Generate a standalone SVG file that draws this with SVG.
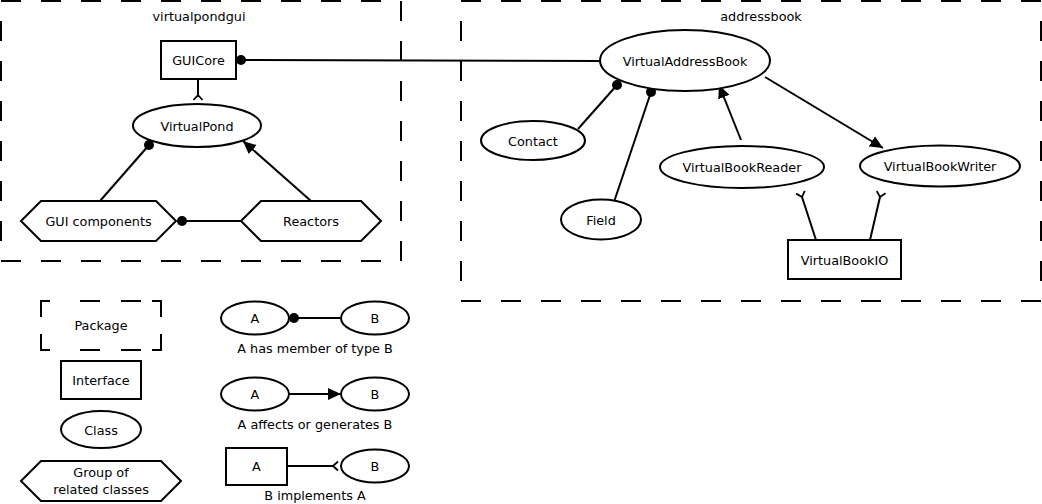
<svg xmlns="http://www.w3.org/2000/svg" width="1042" height="504" viewBox="0 0 1042 504">
  <style>
    text { font-family: "DejaVu Sans", "Liberation Sans", sans-serif; font-size: 12.8px; fill: #000; text-anchor: middle; dominant-baseline: central; }
    .pkg { fill: none; stroke: #000; stroke-width: 2; stroke-dasharray: 20 20; }
    .pkg-legend { fill: none; stroke: #000; stroke-width: 2; }
    .shape { fill: #fff; stroke: #000; stroke-width: 2; }
    .edge { fill: none; stroke: #000; stroke-width: 2; }
    .dot { fill: #000; stroke: none; }
  </style>
  <defs>
    <!-- filled arrowhead: "affects or generates" -->
    <marker id="arrow" markerUnits="userSpaceOnUse" markerWidth="15" markerHeight="13" refX="13" refY="6" orient="auto" viewBox="0 0 15 12">
      <path d="M0,0 L13,6 L0,12 Z" fill="#000"/>
    </marker>
    <!-- open fork: "implements" -->
    <marker id="fork" markerUnits="userSpaceOnUse" markerWidth="10" markerHeight="12" refX="1" refY="6" orient="auto" viewBox="0 0 10 12">
      <path d="M1,6 L6,1.5 M1,6 L6,10.5 M0,6 L2,6" fill="none" stroke="#000" stroke-width="1.8"/>
    </marker>
  </defs>

  <!-- packages -->
  <g id="pkg-virtualpondgui">
    <rect class="pkg" x="1" y="1" width="400" height="260"/>
    <text x="199" y="16">virtualpondgui</text>
  </g>
  <g id="pkg-addressbook">
    <rect class="pkg" x="461" y="1" width="580" height="300"/>
    <text x="761" y="16">addressbook</text>
  </g>

  <!-- connectors -->
  <g id="connectors">
    <!-- has-member -->
    <line class="edge" x1="241" y1="60" x2="600" y2="61"/>
    <circle class="dot" cx="241" cy="60" r="5"/>
    <line class="edge" x1="100" y1="201" x2="149" y2="145"/>
    <circle class="dot" cx="149" cy="145" r="5"/>
    <line class="edge" x1="182" y1="221" x2="241" y2="221"/>
    <circle class="dot" cx="182" cy="221" r="5"/>
    <line class="edge" x1="578" y1="129" x2="617" y2="85"/>
    <circle class="dot" cx="617" cy="85" r="5"/>
    <line class="edge" x1="614" y1="202" x2="651" y2="92"/>
    <circle class="dot" cx="651" cy="92" r="5"/>
    <!-- affects / generates -->
    <line class="edge" x1="311" y1="201" x2="243" y2="141" marker-end="url(#arrow)"/>
    <line class="edge" x1="741" y1="140" x2="719" y2="85" marker-end="url(#arrow)"/>
    <line class="edge" x1="765" y1="77" x2="883" y2="148" marker-end="url(#arrow)"/>
    <!-- implements -->
    <line class="edge" x1="198" y1="79" x2="198" y2="95" marker-end="url(#fork)"/>
    <line class="edge" x1="816" y1="240" x2="802" y2="197" marker-end="url(#fork)"/>
    <line class="edge" x1="870" y1="240" x2="880" y2="197" marker-end="url(#fork)"/>
  </g>

  <!-- virtualpondgui nodes -->
  <g id="GUICore">
    <rect class="shape" x="161" y="41" width="75" height="38"/>
    <text x="198.5" y="60">GUICore</text>
  </g>
  <g id="VirtualPond">
    <ellipse class="shape" cx="197" cy="125.5" rx="64" ry="21.5"/>
    <text x="197" y="126">VirtualPond</text>
  </g>
  <g id="GUIComponents">
    <polygon class="shape" points="21,221 41,201 156,201 176,221 156,241 41,241"/>
    <text x="98.5" y="221">GUI components</text>
  </g>
  <g id="Reactors">
    <polygon class="shape" points="241,221 261,201 361,201 381,221 361,241 261,241"/>
    <text x="311" y="221">Reactors</text>
  </g>

  <!-- addressbook nodes -->
  <g id="VirtualAddressBook">
    <ellipse class="shape" cx="685" cy="60.5" rx="85" ry="30.5"/>
    <text x="685" y="61">VirtualAddressBook</text>
  </g>
  <g id="Contact">
    <ellipse class="shape" cx="533" cy="140.5" rx="52" ry="19.5"/>
    <text x="533" y="141">Contact</text>
  </g>
  <g id="Field">
    <ellipse class="shape" cx="601" cy="219.5" rx="40" ry="20"/>
    <text x="601" y="220">Field</text>
  </g>
  <g id="VirtualBookReader">
    <ellipse class="shape" cx="742" cy="167" rx="82" ry="21"/>
    <text x="742" y="167">VirtualBookReader</text>
  </g>
  <g id="VirtualBookWriter">
    <ellipse class="shape" cx="940" cy="166" rx="80" ry="20.5"/>
    <text x="940" y="166">VirtualBookWriter</text>
  </g>
  <g id="VirtualBookIO">
    <rect class="shape" x="788" y="240" width="113" height="39"/>
    <text x="844.5" y="260">VirtualBookIO</text>
  </g>

  <!-- legend -->
  <g id="legend-package">
    <path class="pkg-legend" d="M50,301 H41 V317 M80,301 H100 M121,301 H141 M152,301 H161 V317 M41,334 V350 H50 M80,350 H100 M121,350 H141 M161,334 V350 H152"/>
    <text x="101" y="325">Package</text>
  </g>
  <g id="legend-interface">
    <rect class="shape" x="61" y="361" width="80" height="38"/>
    <text x="101" y="380">Interface</text>
  </g>
  <g id="legend-class">
    <ellipse class="shape" cx="101" cy="429.5" rx="40" ry="18.5"/>
    <text x="101" y="430">Class</text>
  </g>
  <g id="legend-group">
    <polygon class="shape" points="21,481 41,461 161,461 181,481 161,501 41,501"/>
    <text x="101" y="472">Group of</text>
    <text x="101" y="489">related classes</text>
  </g>

  <g id="legend-member">
    <line class="edge" x1="294" y1="318" x2="341" y2="318"/>
    <circle class="dot" cx="294" cy="318" r="5"/>
    <ellipse class="shape" cx="255" cy="318" rx="34" ry="16.5"/>
    <text x="255" y="318">A</text>
    <ellipse class="shape" cx="375" cy="318" rx="34" ry="16.5"/>
    <text x="375" y="318">B</text>
    <text x="315" y="348">A has member of type B</text>
  </g>
  <g id="legend-affects">
    <line class="edge" x1="289" y1="394" x2="341" y2="394" marker-end="url(#arrow)"/>
    <ellipse class="shape" cx="255" cy="394" rx="34" ry="16.5"/>
    <text x="255" y="394">A</text>
    <ellipse class="shape" cx="375" cy="394" rx="34" ry="16.5"/>
    <text x="375" y="394">B</text>
    <text x="315" y="424">A affects or generates B</text>
  </g>
  <g id="legend-implements">
    <line class="edge" x1="287" y1="466" x2="333" y2="466" marker-end="url(#fork)"/>
    <rect class="shape" x="226" y="448" width="61" height="37"/>
    <text x="256.5" y="466.5">A</text>
    <ellipse class="shape" cx="375" cy="466" rx="34" ry="16.5"/>
    <text x="375" y="466">B</text>
    <text x="315" y="495">B implements A</text>
  </g>
</svg>
